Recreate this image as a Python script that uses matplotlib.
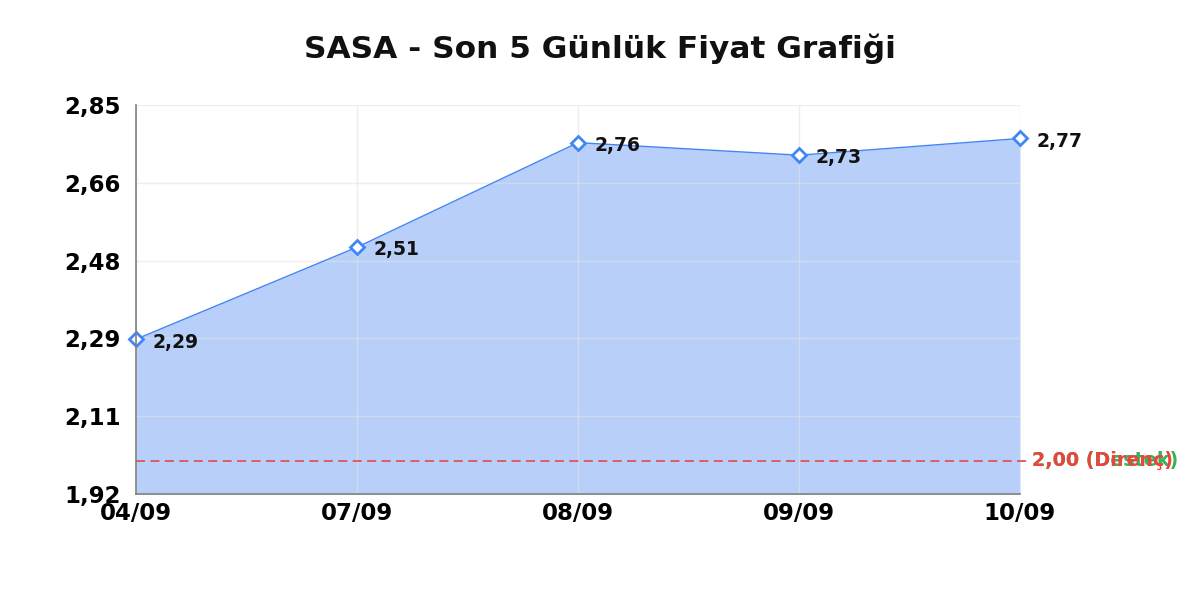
import numpy as np
import matplotlib.pyplot as plt

# chart values
days = ['04/09', '07/09', '08/09', '09/09', '10/09']
prices = [2.29, 2.51, 2.76, 2.73, 2.77]
support = 2.00
resistance = 2.00
y_min, y_max = 1.92, 2.85

LINE_COLOR = '#4285f4'
FILL_COLOR = '#b7cff9'


def tr(v):
    # turkish decimal comma
    return f'{v:.2f}'.replace('.', ',')


def main():
    fig = plt.figure(figsize=(12, 6), dpi=100)
    ax = fig.add_axes([0.1133, 0.1767, 0.7367, 0.6483])

    x = np.arange(len(days))
    ax.fill_between(x, prices, y_min, color=FILL_COLOR, lw=0, zorder=2)
    ax.plot(x, prices, color=LINE_COLOR, lw=1.0, zorder=3)
    ax.plot(x, prices, ls='none', marker='D', ms=7, mfc='white',
            mec=LINE_COLOR, mew=2, zorder=4, clip_on=False)

    for xi, p in zip(x, prices):
        ax.annotate(tr(p), (xi, p), xytext=(12, -2), textcoords='offset points',
                    ha='left', va='center', fontsize=13.5, fontweight='bold',
                    color='#111111', zorder=5, annotation_clip=False)

    # support / resistance line, both at the same level
    ax.axhline(resistance, xmin=0, xmax=1.012, color='#e05555', lw=1.3,
               ls=(0, (5, 3)), zorder=3, clip_on=False)
    ax.text(1.014, support, tr(support) + ' (Destek)', transform=ax.get_yaxis_transform(),
            ha='left', va='center', fontsize=13.8, fontweight='bold', color='#34b35a')
    ax.text(1.014, resistance, tr(resistance) + ' (Direnç)', transform=ax.get_yaxis_transform(),
            ha='left', va='center', fontsize=13.8, fontweight='bold', color='#e8453c')

    ax.set_xlim(0, len(days) - 1)
    ax.set_ylim(y_min, y_max)
    ax.set_xticks(x)
    ax.set_xticklabels(days)
    yt = np.linspace(y_min, y_max, 6)
    ax.set_yticks(yt)
    ax.set_yticklabels([tr(v) for v in yt])
    ax.tick_params(axis='both', length=0, labelsize=16.5)
    ax.tick_params(axis='y', pad=11)
    ax.tick_params(axis='x', pad=6)
    for lab in ax.get_xticklabels() + ax.get_yticklabels():
        lab.set_fontweight('bold')

    ax.grid(True, color='#e3e3e3', lw=1.0, zorder=1)
    ax.set_axisbelow(False)
    for gl in ax.get_xgridlines() + ax.get_ygridlines():
        gl.set_zorder(2.5)
        gl.set_alpha(0.6)
    for s in ['top', 'right']:
        ax.spines[s].set_visible(False)
    for s in ['left', 'bottom']:
        ax.spines[s].set_color('#808080')
        ax.spines[s].set_linewidth(1.2)
        ax.spines[s].set_zorder(6)

    fig.suptitle('SASA - Son 5 Günlük Fiyat Grafiği', fontsize=22.5, fontweight='bold',
                 y=0.945, color='#111111')

    fig.savefig('out.png', dpi=100)


if __name__ == '__main__':
    main()
